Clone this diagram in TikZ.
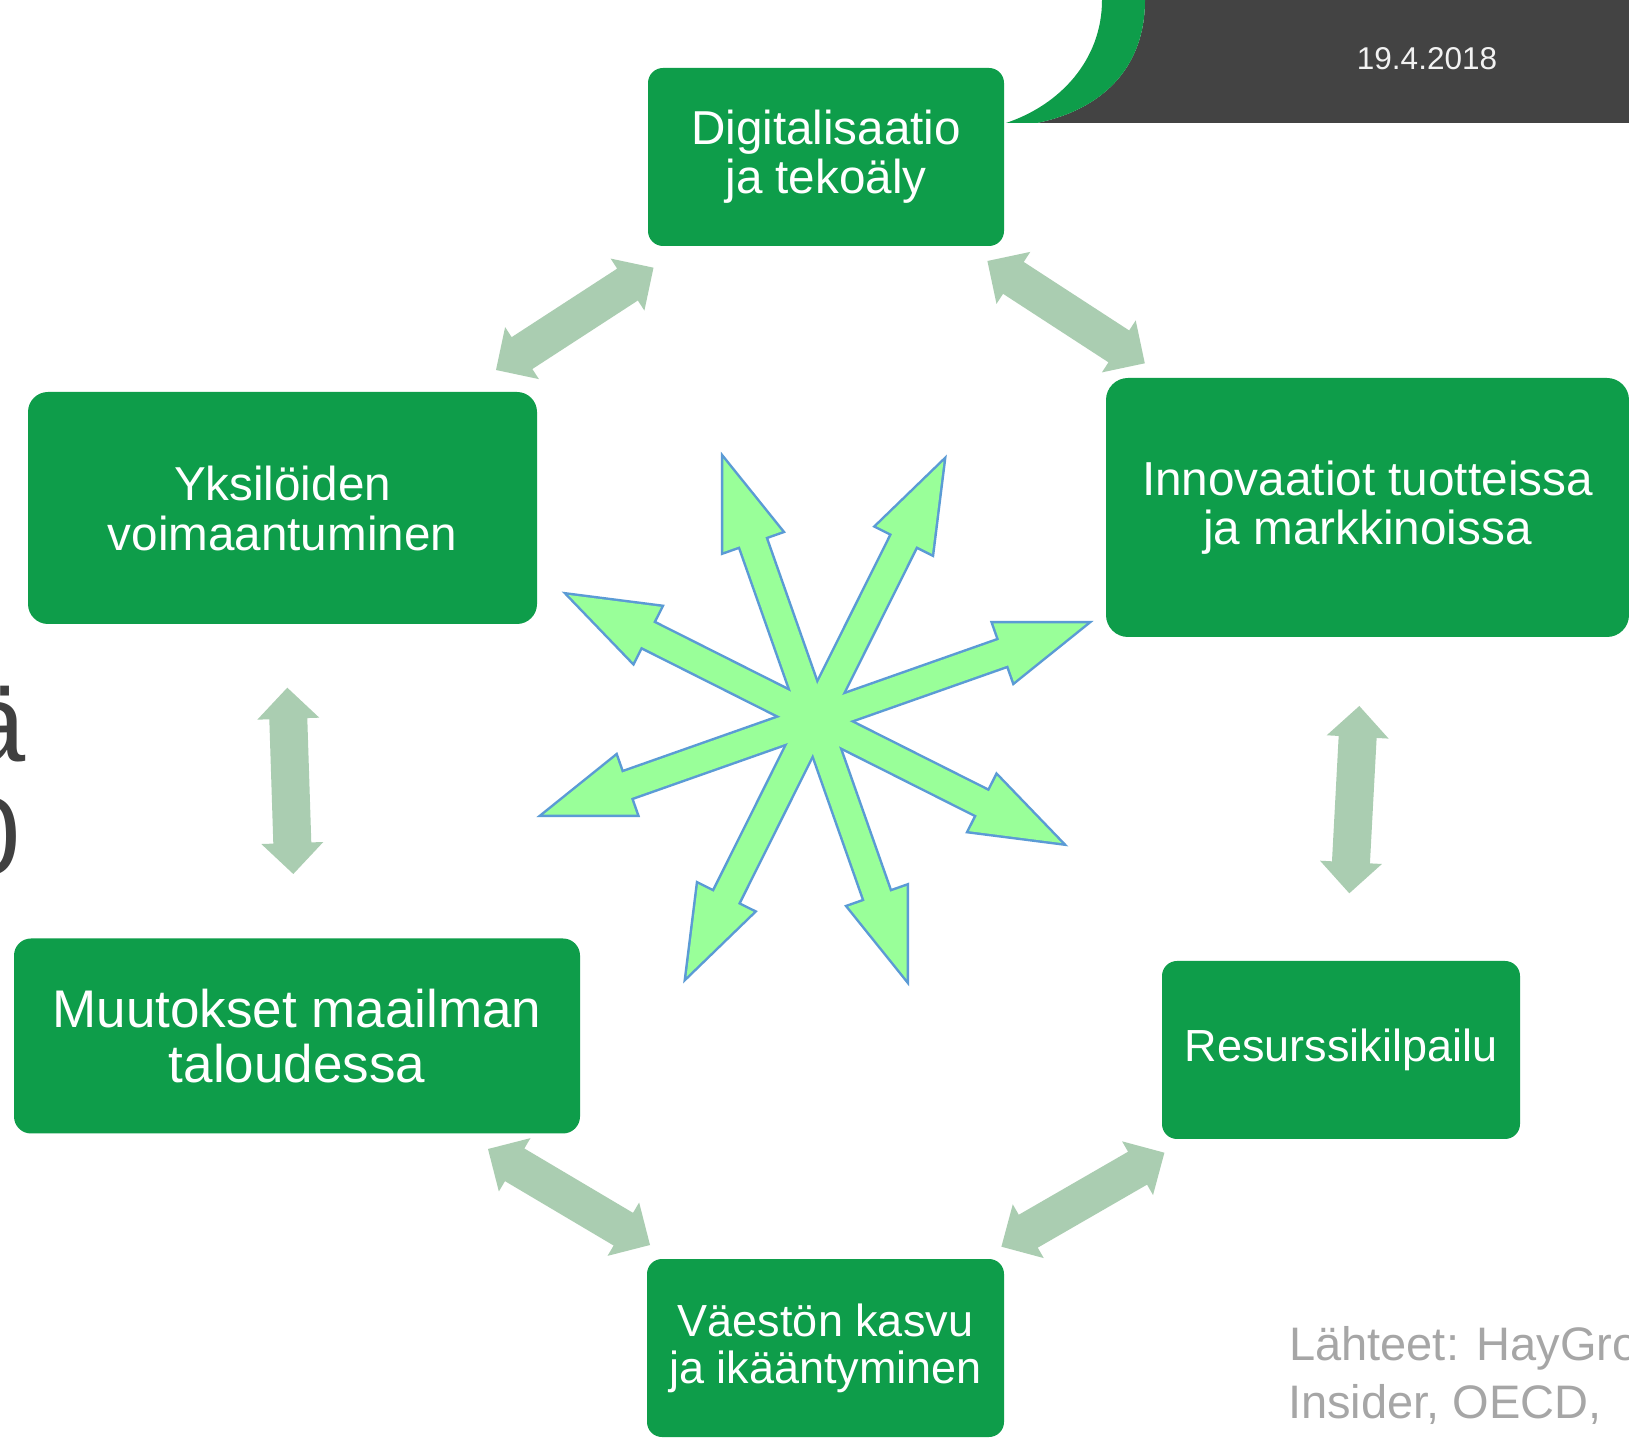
\documentclass[tikz,border=0pt]{standalone}
\usepackage{fontspec}
\setmainfont{Liberation Sans}
\usetikzlibrary{calc}
\definecolor{trendgreen}{RGB}{14,157,74}
\definecolor{linkgreen}{RGB}{170,205,177}
\definecolor{starfill}{RGB}{153,255,153}
\definecolor{starline}{RGB}{91,155,213}
\definecolor{banddark}{RGB}{67,67,67}
\definecolor{sourcegray}{RGB}{166,166,166}
\definecolor{titledark}{RGB}{64,64,64}
\definecolor{datewhite}{RGB}{242,242,242}
\tikzset{
  trend/.style={fill=trendgreen, text=white, rounded corners=#1, inner sep=0pt, align=center},
  trend/.default=15pt,
}
\newcommand{\headlen}{31pt}
\newcommand{\headwid}{31pt}
\newcommand{\shaftwid}{19pt}
% block arrow with two heads
\newcommand{\fatarrow}[3][]{%
  \path[#1] (#2)
    -- ($(#2)!\headlen!(#3)!\headwid!90:(#3)$)
    -- ($(#2)!\headlen!(#3)!\shaftwid!90:(#3)$)
    -- ($(#3)!\headlen!(#2)!\shaftwid!-90:(#2)$)
    -- ($(#3)!\headlen!(#2)!\headwid!-90:(#2)$)
    -- (#3)
    -- ($(#3)!\headlen!(#2)!\headwid!90:(#2)$)
    -- ($(#3)!\headlen!(#2)!\shaftwid!90:(#2)$)
    -- ($(#2)!\headlen!(#3)!\shaftwid!-90:(#3)$)
    -- ($(#2)!\headlen!(#3)!\headwid!-90:(#3)$)
    -- cycle;}

\begin{document}
\begin{tikzpicture}[x=1pt, y=1pt]
  \useasboundingbox (0,0) rectangle (1629,1440);
  \clip (0,0) rectangle (1629,1440);
  \fill[white] (0,0) rectangle (1629,1440);

  % header band
  \fill[banddark] (1145,1440) -- (1629,1440) -- (1629,1317) -- (1037,1317)
    .. controls (1100,1330) and (1145,1370) .. (1145,1440) -- cycle;
  \fill[trendgreen] (1102,1440) -- (1145,1440)
    .. controls (1145,1370) and (1100,1330) .. (1037,1317) -- (1006,1317)
    .. controls (1060,1335) and (1102,1380) .. (1102,1440) -- cycle;
  \node[text=datewhite, font=\fontsize{31.5pt}{36pt}\selectfont] (date) at (1427,1381) {19.4.2018};

  % title, cut off
  \node[anchor=base east, inner sep=0pt, text=titledark, font=\fontsize{110pt}{113pt}\selectfont] (title1) at (26,678) {ä};
  \node[anchor=base east, inner sep=0pt, text=titledark, font=\fontsize{110pt}{113pt}\selectfont] (title2) at (21,565) {0};

  % trends
  \node[trend, minimum width=356pt, minimum height=178pt, font=\fontsize{47.6pt}{49pt}\selectfont] (digi) at (826,1283) {Digitalisaatio\\ja tekoäly};
  \node[trend=20pt, minimum width=509pt, minimum height=232pt, font=\fontsize{47.6pt}{50pt}\selectfont] (yksi) at (282.5,932) {Yksilöiden\\voimaantuminen};
  \node[trend=22pt, minimum width=523pt, minimum height=259pt, font=\fontsize{47.7pt}{49pt}\selectfont] (inno) at (1367.5,932.5) {Innovaatiot tuotteissa\\ja markkinoissa};
  \node[trend=17pt, minimum width=566pt, minimum height=195pt, font=\fontsize{53pt}{55pt}\selectfont] (muut) at (297,404) {Muutokset maailman\\taloudessa};
  \node[trend, minimum width=358pt, minimum height=178pt, font=\fontsize{45pt}{47pt}\selectfont] (resu) at (1341,390) {Resurssikilpailu};
  \node[trend, minimum width=357pt, minimum height=178pt, font=\fontsize{45pt}{47pt}\selectfont] (vaes) at (825.5,92) {Väestön kasvu\\ja ikääntyminen};

  % links
  \coordinate (yk-di) at (496,1070);
  \coordinate (di-yk) at (653.5,1172.3);
  \coordinate (di-in) at (987.4,1179);
  \coordinate (in-di) at (1144.8,1076.7);
  \coordinate (in-re) at (1359.3,734);
  \coordinate (re-in) at (1349.3,546.7);
  \coordinate (re-va) at (1164.4,287.3);
  \coordinate (va-re) at (1001.4,193.3);
  \coordinate (va-mu) at (650,195);
  \coordinate (mu-va) at (488,291);
  \coordinate (mu-yk) at (293.3,566);
  \coordinate (yk-mu) at (287.3,752.3);
  \foreach \a/\b in {yk-di/di-yk, di-in/in-di, in-re/re-in, re-va/va-re, va-mu/mu-va, mu-yk/yk-mu}
    {\fatarrow[fill=linkgreen]{\a}{\b}}

  % star in the middle
  \coordinate (star) at (815,721);
  \foreach \ang/\len [count=\i] in {19.4/288, 63.5/288, 109.4/276, 153.3/276} {
    \coordinate (ray\i-a) at ($(star)+(\ang:\len)$);
    \coordinate (ray\i-b) at ($(star)+(\ang+180:\len)$);
  }
  \begin{scope}
    \renewcommand{\headlen}{88pt}\renewcommand{\shaftwid}{13.5pt}
    \foreach \i in {1,...,4} {\fatarrow[draw=starline, line width=5pt]{ray\i-a}{ray\i-b}}
    \foreach \i in {1,...,4} {\fatarrow[fill=starfill]{ray\i-a}{ray\i-b}}
  \end{scope}

  % sources
  \node[anchor=base west, inner sep=0pt, text=sourcegray, font=\fontsize{47pt}{58pt}\selectfont] (src1) at (1289,80) {Lähteet: HayGro};
  \node[anchor=base west, inner sep=0pt, text=sourcegray, font=\fontsize{47pt}{58pt}\selectfont] (src2) at (1288,22) {Insider, OECD,};
\end{tikzpicture}
\end{document}
